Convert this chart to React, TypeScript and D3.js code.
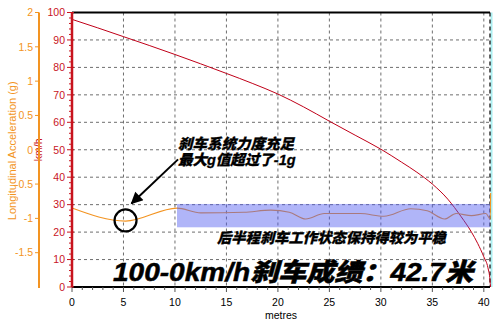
import React from "react";
import * as d3 from "d3";

const speedDist = [0, 2.5, 5, 7.5, 10, 12.5, 15, 17.5, 20, 22.5, 25, 27.5, 30, 32, 33.5, 35, 36.5, 37.8, 38.8, 39.4, 40, 40.4, 40.6, 40.65];
const speedKmh = [97.5, 94.4, 91.2, 88, 84.7, 81.3, 77.8, 74.2, 70.3, 65.6, 60.4, 55.3, 50.2, 45.5, 41.8, 37.5, 32, 25.6, 20, 15.9, 11, 7, 2.5, 0];

const accDist = [0, 5.2, 10.2, 12.5, 16.7, 19.3, 21.1, 22.7, 24.5, 28, 30.3, 32.9, 34.5, 36.2, 37.3, 38.8, 40.2, 40.62, 40.66];
const accG = [-0.85, -1.04, -0.85, -0.92, -0.91, -0.88, -0.91, -1.01, -0.93, -0.93, -0.97, -0.86, -0.89, -1.01, -0.93, -0.96, -0.93, -1.01, -0.63];

const xTicks = [0, 5, 10, 15, 20, 25, 30, 35, 40];
const speedTicks = [0, 10, 20, 30, 40, 50, 60, 70, 80, 90, 100];
const accTicks = [2, 1.5, 1, 0.5, 0, -0.5, -1, -1.5];
const accTickLabels = ["2", "1.5", "1", "0.5", "0", "-0.5", "-1", "-1.5"];

const band = { start: 10.2, end: 40.6, top: -0.79, bottom: -1.13 };
const circleAt = { d: 5.2, g: -1.03 };

const title = "100-0km/h刹车成绩：42.7米";
const note1a = "刹车系统力度充足";
const note1b = "最大g值超过了-1g";
const note2 = "后半程刹车工作状态保持得较为平稳";

const W = 500, H = 324;
const L = 72, R = 490, T = 12.5, B = 287;
const RED = "#c8141e";
const ORANGE = "#f39422";
const FONT = "'Liberation Sans', Arial, 'Noto Sans CJK SC', sans-serif";
const CJK = "'Liberation Sans', Arial, 'Noto Sans CJK SC', sans-serif";

export default function App() {
  const x = d3.scaleLinear().domain([0, 40.6]).range([L, R]);
  const yS = d3.scaleLinear().domain([0, 100]).range([B, T]);
  const yA = d3.scaleLinear().domain([-2, 2]).range([B, T]);

  const speedLine = d3.line<number>().x((_, i) => x(speedDist[i])).y((v) => yS(v)).curve(d3.curveMonotoneX);
  const accLine = d3.line<number>().x((_, i) => x(accDist[i])).y((v) => yA(v)).curve(d3.curveMonotoneX);

  const minorX = d3.range(0, 41, 1);
  const minorS = d3.range(0, 101, 2);

  const cx = x(circleAt.d), cy = yA(circleAt.g);
  const ax1 = x(10.3), ay1 = yS(46.5);
  const ax2 = cx + 6, ay2 = cy - 17;

  return (
    <svg width={W} height={H} style={{ position: "absolute", left: 0, top: 0, background: "#fff" }} fontFamily={FONT}>
      <defs>
        <marker id="ah" viewBox="0 0 10 10" refX="9" refY="5" markerWidth="7" markerHeight="6" orient="auto" markerUnits="strokeWidth">
          <path d="M0,0 L10,5 L0,10 z" fill="#000" />
        </marker>
      </defs>
      <rect x={0} y={0} width={W} height={H} fill="#fff" />
      {speedTicks.filter((t) => t > 0 && t < 100).map((t) => (
        <line key={"hg" + t} x1={L} x2={R} y1={yS(t)} y2={yS(t)} stroke="#6e6e6e" strokeDasharray="3,3" strokeWidth={1} />
      ))}
      {xTicks.filter((t) => t > 0).map((t) => (
        <line key={"vg" + t} x1={x(t)} x2={x(t)} y1={T} y2={B} stroke="#6e6e6e" strokeDasharray="3,3" strokeWidth={1} />
      ))}
      <line x1={R + 1.5} x2={R + 1.5} y1={T} y2={B} stroke="#a8eef0" strokeWidth={2} />
      <line x1={R} x2={R} y1={T} y2={B} stroke="#000" strokeDasharray="4,3" strokeWidth={1.2} />
      <line x1={L} x2={R} y1={T} y2={T} stroke="#000" strokeWidth={2} />

      <path d={speedLine(speedKmh) || ""} fill="none" stroke="#c00018" strokeWidth={1} />
      <path d={accLine(accG) || ""} fill="none" stroke={ORANGE} strokeWidth={1.1} />
      <rect x={x(band.start)} y={yA(band.top)} width={x(band.end) - x(band.start)} height={yA(band.bottom) - yA(band.top)} fill="rgb(80,90,240)" fillOpacity={0.45} />

      <line x1={L} x2={R} y1={B} y2={B} stroke="#000" strokeWidth={2} />
      {minorX.map((t) => (
        <line key={"mx" + t} x1={x(t)} x2={x(t)} y1={B} y2={B + (t % 5 === 0 ? 5 : 3)} stroke="#555" strokeWidth={1} />
      ))}
      {xTicks.map((t) => (
        <text key={"xl" + t} x={x(t)} y={306} textAnchor="middle" fontSize={10.5} fill="#000">{t}</text>
      ))}
      <text x={(L + R) / 2} y={319} textAnchor="middle" fontSize={10.5} fill="#000">metres</text>

      <line x1={L} x2={L} y1={T} y2={B} stroke={RED} strokeWidth={2.5} />
      {minorS.map((t) => (
        <line key={"ms" + t} x1={L - (t % 10 === 0 ? 5 : 3)} x2={L + (t % 10 === 0 ? 2 : 0)} y1={yS(t)} y2={yS(t)} stroke={RED} strokeWidth={1} />
      ))}
      {speedTicks.map((t) => (
        <text key={"sl" + t} x={65} y={yS(t) + 3.8} textAnchor="end" fontSize={10.5} fill={RED}>{t}</text>
      ))}
      <text transform={`translate(42,${(T + B) / 2}) rotate(-90)`} textAnchor="middle" fontSize={10.5} fill={RED}>km/h</text>

      <line x1={39} x2={39} y1={T} y2={B + 1} stroke={ORANGE} strokeWidth={2} />
      {accTicks.map((t, i) => (
        <g key={"al" + t}>
          <line x1={35} x2={39} y1={yA(t)} y2={yA(t)} stroke={ORANGE} strokeWidth={1} />
          <text x={33} y={yA(t) + 3.8} textAnchor="end" fontSize={10.5} fill={ORANGE}>{accTickLabels[i]}</text>
        </g>
      ))}
      <text transform={`translate(16,${(T + B) / 2 + 1}) rotate(-90)`} textAnchor="middle" fontSize={11} fill={ORANGE}>Longitudinal Acceleration (g)</text>

      <circle cx={cx} cy={cy} r={11} fill="none" stroke="#000" strokeWidth={2.2} />
      <line x1={ax1} y1={ay1} x2={ax2} y2={ay2} stroke="#000" strokeWidth={2} markerEnd="url(#ah)" />
      <text x={178} y={149} fontSize={14.5} fontWeight={900} fontStyle="italic" fontFamily={CJK} fill="#000" stroke="#000" strokeWidth={0.3}>{note1a}</text>
      <text x={178} y={165} fontSize={14.5} fontWeight={900} fontStyle="italic" fontFamily={CJK} fill="#000" stroke="#000" strokeWidth={0.3}>{note1b}</text>
      <text x={217} y={243} fontSize={14.3} fontWeight={900} fontStyle="italic" fontFamily={CJK} fill="#000" stroke="#000" strokeWidth={0.3}>{note2}</text>
      <text x={113} y={281} fontSize={25} fontWeight={900} fontStyle="italic" fontFamily={CJK} fill="#000" stroke="#000" strokeWidth={0.5} textLength={360} lengthAdjust="spacingAndGlyphs">{title}</text>
    </svg>
  );
}
